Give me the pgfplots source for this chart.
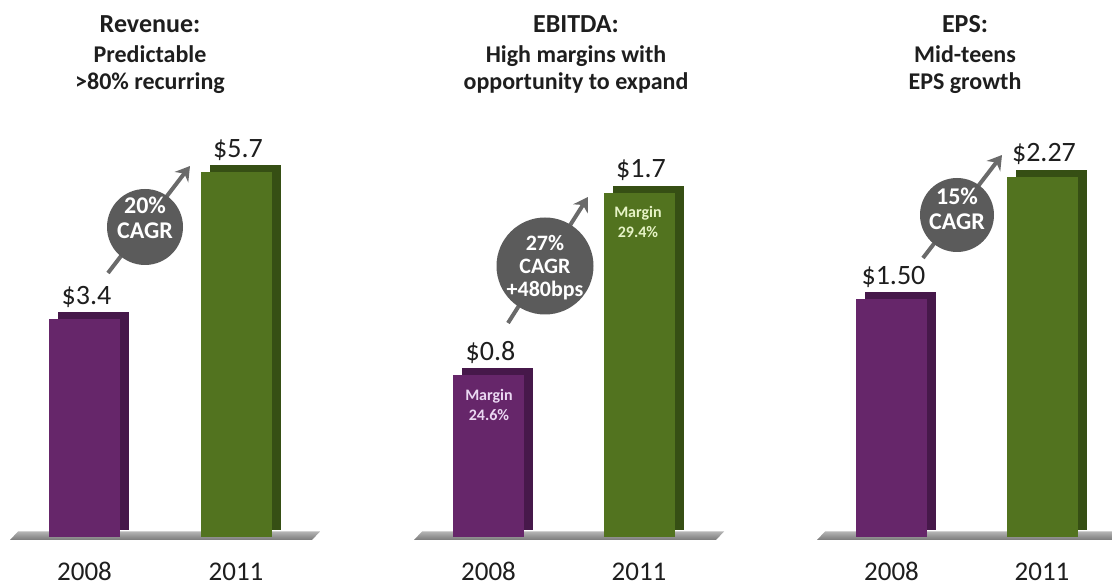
\documentclass[border=0pt]{standalone}
\usepackage{fontspec}
\setmainfont{Carlito}
\usepackage{pgfplots}
\pgfplotsset{compat=1.18}
\usetikzlibrary{arrows.meta}
\definecolor{purp}{HTML}{66266A}
\definecolor{purpd}{HTML}{46184A}
\definecolor{grn}{HTML}{52731F}
\definecolor{grnd}{HTML}{364F14}
\definecolor{circ}{HTML}{5B5B5B}
\definecolor{arr}{HTML}{6A6A6A}
\definecolor{txt}{HTML}{1E1E1E}
\definecolor{floorL}{HTML}{B4B4B4}
\definecolor{floorD}{HTML}{7A7A7A}
\definecolor{lav}{HTML}{EAD8F2}
\definecolor{lgrn}{HTML}{E6F3C6}
\pgfplotsset{
  panel/.style={ybar, bar width=71pt, xmin=-0.5, xmax=1.5, ymin=0, clip=false,
    anchor=south west, axis line style={draw=none}, major tick length=0pt,
    ytick=\empty, xtick={0,1}, xticklabels={2008,2011},
    xticklabel style={anchor=base, inner sep=0pt, yshift=-44pt, font=\fontsize{27}{30}\selectfont, text=txt}},
  front/.style={draw=none, bar shift=0pt, nodes near coords, point meta=explicit symbolic,
    every node near coord/.append style={anchor=base, yshift=15pt, xshift=2pt,
      font=\fontsize{28}{30}\selectfont, text=txt}},
  back/.style={draw=none, bar shift=9pt, yshift=7pt},
}
\begin{document}
\begin{tikzpicture}[x=1pt,y=1pt]
\path[use as bounding box] (0,0) rectangle (1112,586);
% floors
\foreach \o in {0,404,807} {
  \shade[top color=floorL, bottom color=floorD] (10+\o,46) -- (312+\o,46) -- (320+\o,54.5) -- (18+\o,54.5) -- cycle;
}
% titles
\tikzset{t1/.style={anchor=base, font=\bfseries\fontsize{26}{28}\selectfont, text=txt},
         t2/.style={anchor=base, font=\bfseries\fontsize{24}{28}\selectfont, text=txt}}
\node[t1] at (150,553) {Revenue:};
\node[t2] at (150,523) {Predictable};
\node[t2] at (150,496) {>80\% recurring};
\node[t1] at (576,553) {EBITDA:};
\node[t2] at (576,523) {High margins with};
\node[t2] at (576,496) {opportunity to expand};
\node[t1] at (965,553) {EPS:};
\node[t2] at (965,523) {Mid-teens};
\node[t2] at (965,496) {EPS growth};

% Revenue
\begin{axis}[panel, at={(8.75pt,49pt)}, x=151.5pt, y=64pt, ymax=6]
\addplot[back, fill=purpd] coordinates {(0,3.4)};
\addplot[back, fill=grnd] coordinates {(1,5.7)};
\addplot[front, fill=purp] coordinates {(0,3.4) [\$3.4]};
\addplot[front, fill=grn] coordinates {(1,5.7) [\$5.7]};
\end{axis}
% EBITDA
\begin{axis}[panel, at={(413.25pt,49pt)}, x=150.5pt, y=202.4pt, ymax=1.85]
\addplot[back, fill=purpd] coordinates {(0,0.8)};
\addplot[back, fill=grnd] coordinates {(1,1.7)};
\addplot[front, fill=purp] coordinates {(0,0.8) [\$0.8]};
\addplot[front, fill=grn] coordinates {(1,1.7) [\$1.7]};
\end{axis}
% EPS
\begin{axis}[panel, at={(816.25pt,49pt)}, x=150.5pt, y=158.6pt, ymax=2.4]
\addplot[back, fill=purpd] coordinates {(0,1.50)};
\addplot[back, fill=grnd] coordinates {(1,2.27)};
\addplot[front, fill=purp] coordinates {(0,1.50) [\$1.50]};
\addplot[front, fill=grn] coordinates {(1,2.27) [\$2.27]};
\end{axis}

% arrows and circles
\tikzset{ga/.style={arr, line width=4pt, -{Stealth[length=14pt,width=17pt]}},
         ct/.style={text=white, font=\bfseries\fontsize{24}{25}\selectfont, align=center}}
\draw[ga] (108,313) -- (190,420);
\fill[circ] (145,359) circle[radius=38pt];
\node[ct] at (145,368) {20\%\\CAGR};

\draw[ga] (508,263) -- (588,389);
\fill[circ] (545,320) circle[radius=48.5pt];
\node[ct, font=\bfseries\fontsize{22}{23}\selectfont] at (545,318) {27\%\\CAGR\\+480bps};

\draw[ga] (923,328) -- (1002,431);
\fill[circ] (957,371) circle[radius=37pt];
\node[ct] at (957,377) {15\%\\CAGR};

% margin labels
\node[font=\bfseries\fontsize{16}{20}\selectfont, text=lav, align=center] at (489,181) {Margin\\24.6\%};
\node[font=\bfseries\fontsize{16}{20}\selectfont, text=lgrn, align=center] at (638,364) {Margin\\29.4\%};
\end{tikzpicture}
\end{document}
